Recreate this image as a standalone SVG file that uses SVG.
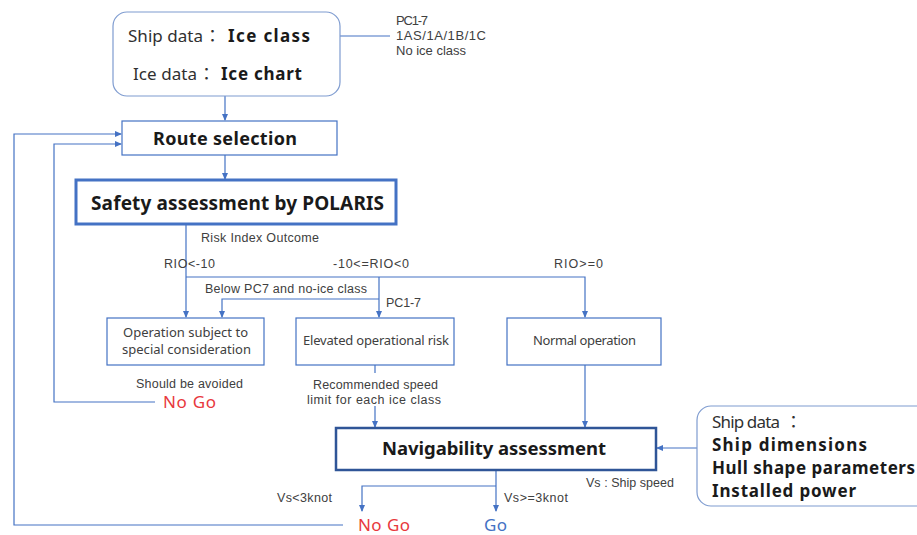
<svg xmlns="http://www.w3.org/2000/svg" width="917" height="535" viewBox="0 0 917 535">
<defs>
<marker id="ah" markerWidth="8" markerHeight="8" refX="6" refY="4" orient="auto" markerUnits="userSpaceOnUse">
<path d="M0,1 L7,4 L0,7 Z" fill="#4472C4"/>
</marker>
<style>
.ln{fill:none;stroke:#4472C4;stroke-width:1.2}
.bx{fill:#fff;stroke:#4472C4;stroke-width:1.2}
.rb{fill:#fff;stroke:#7F9CD0;stroke-width:1.2}
text{font-family:"Noto Sans","Noto Sans CJK JP",sans-serif}
.sm{font-family:"Liberation Sans",Arial,sans-serif;font-size:12.5px;fill:#404040}
.nt{font-family:"Liberation Sans",Arial,sans-serif;font-size:13px;fill:#404040}
.md{font-size:13px;fill:#404040}
.big{font-size:17px;fill:#303030}
.cl{font-family:"Noto Sans CJK JP",sans-serif;font-size:17px;fill:#303030}
.b{font-weight:bold;fill:#1a1a1a}
.ttl{font-weight:bold;fill:#1a1a1a}
.red{font-size:17px;fill:#E8383D}
.blu{font-size:17px;fill:#4472C4}
</style>
</defs>
<rect width="917" height="535" fill="#fff"/>

<g id="connectors">
<path class="ln" d="M390,36 H313" marker-end="url(#ah)"/>
<path class="ln" d="M225,96 V120" marker-end="url(#ah)"/>
<path class="ln" d="M225,155 V179" marker-end="url(#ah)"/>
<path class="ln" d="M186,224 V317" marker-end="url(#ah)"/>
<path class="ln" d="M186,277 H585 V317" marker-end="url(#ah)"/>
<path class="ln" d="M379,277 V317" marker-end="url(#ah)"/>
<path class="ln" d="M379,299 H222 V317" marker-end="url(#ah)"/>
<path class="ln" d="M155,402 H54 V144 H121" marker-end="url(#ah)"/>
<path class="ln" d="M343,525 H14 V134 H121" marker-end="url(#ah)"/>
<path class="ln" d="M375,364 V373"/>
<path class="ln" d="M375,406 V427" marker-end="url(#ah)"/>
<path class="ln" d="M585,364 V427" marker-end="url(#ah)"/>
<path class="ln" d="M697,448 H657" marker-end="url(#ah)"/>
<path class="ln" d="M496,470 V511" marker-end="url(#ah)"/>
<path class="ln" d="M496,486 H362 V511" marker-end="url(#ah)"/>
</g>

<g id="ship-data-top">
<rect class="rb" x="113" y="12" width="227" height="84" rx="14"/>
<text class="big" x="128" y="42" textLength="75" lengthAdjust="spacing">Ship data</text>
<text class="cl" x="204" y="42">：</text>
<text class="big b" x="228" y="42" font-size="19" textLength="82" lengthAdjust="spacing">Ice class</text>
<text class="big" x="133" y="80" textLength="64" lengthAdjust="spacing">Ice data</text>
<text class="cl" x="198" y="80">：</text>
<text class="big b" x="221" y="80" font-size="19" textLength="81" lengthAdjust="spacing">Ice chart</text>
</g>
<g id="ice-class-note">
<text class="nt" x="396" y="25" textLength="32" lengthAdjust="spacing">PC1-7</text>
<text class="nt" x="396" y="40" textLength="90" lengthAdjust="spacing">1AS/1A/1B/1C</text>
<text class="nt" x="396" y="55" textLength="70" lengthAdjust="spacing">No ice class</text>
</g>

<g id="route-selection">
<rect class="bx" x="122" y="121" width="215" height="34"/>
<text class="ttl" x="153" y="145" font-size="18" textLength="144" lengthAdjust="spacing">Route selection</text>
</g>

<g id="polaris">
<rect x="76" y="180" width="320" height="44" fill="#fff" stroke="#4472C4" stroke-width="3"/>
<text class="ttl" x="91" y="210" font-size="19" textLength="293" lengthAdjust="spacing">Safety assessment by POLARIS</text>
</g>

<g id="labels">
<text class="sm" x="201" y="242" textLength="118" lengthAdjust="spacing">Risk Index Outcome</text>
<text class="sm" x="164" y="268" textLength="51" lengthAdjust="spacing">RIO&lt;-10</text>
<text class="sm" x="333" y="268" textLength="76" lengthAdjust="spacing">-10&lt;=RIO&lt;0</text>
<text class="sm" x="554" y="268" textLength="49" lengthAdjust="spacing">RIO&gt;=0</text>
<text class="sm" x="205" y="293" textLength="162" lengthAdjust="spacing">Below PC7 and no-ice class</text>
<text class="sm" x="386" y="307" textLength="35" lengthAdjust="spacing">PC1-7</text>
<text class="sm" x="136" y="388" textLength="107" lengthAdjust="spacing">Should be avoided</text>
<text class="sm" x="313" y="389" textLength="125" lengthAdjust="spacing">Recommended speed</text>
<text class="sm" x="307" y="404" textLength="134" lengthAdjust="spacing">limit for each ice class</text>
<text class="sm" x="586" y="487" textLength="88" lengthAdjust="spacing">Vs : Ship speed</text>
<text class="sm" x="277" y="502" textLength="55" lengthAdjust="spacing">Vs&lt;3knot</text>
<text class="sm" x="504" y="502" textLength="64" lengthAdjust="spacing">Vs&gt;=3knot</text>
</g>

<g id="special">
<rect class="bx" x="107" y="318" width="157" height="47"/>
<text class="md" x="123" y="337" textLength="125" lengthAdjust="spacing">Operation subject to</text>
<text class="md" x="122" y="354" textLength="129" lengthAdjust="spacing">special consideration</text>
</g>
<g id="elevated">
<rect class="bx" x="296" y="318" width="158" height="47"/>
<text class="md" x="303" y="345" textLength="146" lengthAdjust="spacing">Elevated operational risk</text>
</g>
<g id="normal">
<rect class="bx" x="507" y="318" width="154" height="47"/>
<text class="md" x="533" y="345" textLength="103" lengthAdjust="spacing">Normal operation</text>
</g>

<g id="nogo1"><text class="red" x="163" y="408" textLength="53" lengthAdjust="spacing">No Go</text></g>

<g id="navigability">
<rect x="336" y="428" width="320" height="42" fill="#fff" stroke="#2F5597" stroke-width="2.5"/>
<text class="ttl" x="382" y="455" font-size="18.5" textLength="224" lengthAdjust="spacing">Navigability assessment</text>
</g>

<g id="ship-data-right">
<rect class="rb" x="697" y="406" width="240" height="100" rx="14"/>
<text class="big" x="712" y="428" textLength="68" lengthAdjust="spacing">Ship data</text>
<text class="cl" x="785" y="428">：</text>
<text class="big b" x="712" y="451" font-size="19" textLength="155" lengthAdjust="spacing">Ship dimensions</text>
<text class="big b" x="712" y="474" font-size="19" textLength="203" lengthAdjust="spacing">Hull shape parameters</text>
<text class="big b" x="712" y="497" font-size="19" textLength="144" lengthAdjust="spacing">Installed power</text>
</g>

<g id="nogo2"><text class="red" x="358" y="531" textLength="52" lengthAdjust="spacing">No Go</text></g>
<g id="go"><text class="blu" x="484" y="531" textLength="23" lengthAdjust="spacing">Go</text></g>
</svg>
